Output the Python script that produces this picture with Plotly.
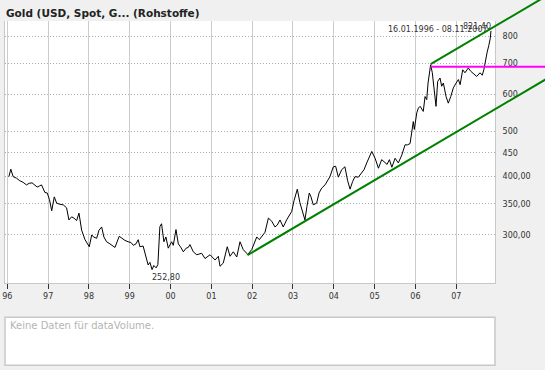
import math
import pandas as pd
import plotly.graph_objects as go

# ---------------- data ----------------
dates = [
    "1996-01-16", "1996-02-02", "1996-02-23", "1996-03-24", "1996-04-22", "1996-05-22",
    "1996-06-21", "1996-07-15", "1996-08-10", "1996-09-04", "1996-09-25", "1996-10-15",
    "1996-11-03", "1996-12-03", "1996-12-24", "1997-01-13", "1997-02-02", "1997-02-25",
    "1997-03-18", "1997-04-16", "1997-05-16", "1997-06-15", "1997-07-06", "1997-07-30",
    "1997-08-20", "1997-09-13", "1997-10-04", "1997-10-28", "1997-11-27", "1998-01-04",
    "1998-01-26", "1998-02-11", "1998-03-11", "1998-04-01", "1998-04-25", "1998-05-15",
    "1998-06-08", "1998-07-08", "1998-08-22", "1998-09-29", "1998-10-23", "1998-11-19",
    "1998-12-18", "1999-01-12", "1999-02-02", "1999-02-26", "1999-03-18", "1999-04-02",
    "1999-05-01", "1999-05-16", "1999-06-01", "1999-06-15", "1999-07-01", "1999-07-20",
    "1999-08-05", "1999-08-25", "1999-09-10", "1999-09-28", "1999-10-13", "1999-11-03",
    "1999-11-21", "1999-12-12", "2000-01-11", "2000-01-26", "2000-02-19", "2000-03-11",
    "2000-03-30", "2000-04-25", "2000-05-20", "2000-06-08", "2000-06-23", "2000-07-23",
    "2000-08-23", "2000-10-06", "2000-11-05", "2000-12-20", "2001-02-03", "2001-03-04",
    "2001-03-19", "2001-04-17", "2001-05-23", "2001-06-17", "2001-07-16", "2001-08-16",
    "2001-09-14", "2001-10-13", "2001-11-13", "2001-11-20", "2001-12-28", "2002-02-11",
    "2002-03-06", "2002-04-26", "2002-05-26", "2002-06-25", "2002-07-24", "2002-08-14",
    "2002-09-07", "2002-10-06", "2002-11-05", "2002-12-21", "2003-01-10", "2003-02-09",
    "2003-03-04", "2003-03-26", "2003-04-18", "2003-05-06", "2003-05-27", "2003-06-11",
    "2003-07-02", "2003-08-01", "2003-08-22", "2003-09-15", "2003-10-15", "2003-11-28",
    "2003-12-28", "2004-01-18", "2004-02-11", "2004-03-12", "2004-04-10", "2004-05-03",
    "2004-05-26", "2004-06-17", "2004-07-09", "2004-08-08", "2004-09-08", "2004-09-28",
    "2004-10-22", "2004-11-10", "2004-12-06", "2005-01-05", "2005-02-04", "2005-03-05",
    "2005-04-04", "2005-04-22", "2005-05-13", "2005-06-04", "2005-07-03", "2005-08-01",
    "2005-09-01", "2005-09-30", "2005-10-22", "2005-11-14", "2005-12-13", "2005-12-22",
    "2006-01-13", "2006-01-27", "2006-02-12", "2006-03-12", "2006-03-28", "2006-04-12",
    "2006-04-24", "2006-05-05", "2006-05-17", "2006-06-01", "2006-06-19", "2006-07-04",
    "2006-07-19", "2006-08-09", "2006-08-24", "2006-09-08", "2006-10-02", "2006-10-22",
    "2006-11-13", "2006-12-06", "2006-12-31", "2007-01-20", "2007-02-05", "2007-02-28",
    "2007-03-20", "2007-04-19", "2007-05-11", "2007-06-03", "2007-07-03", "2007-08-02",
    "2007-08-22", "2007-09-05", "2007-09-20", "2007-10-05", "2007-10-20", "2007-11-01",
    "2007-11-08",
]
prices = [
    400, 415, 400, 397, 392, 389,
    384, 387, 388, 384, 380, 382,
    384, 370, 369, 357, 338, 362,
    351, 349, 348, 343, 323, 328,
    326, 322, 334, 307, 293, 283,
    300, 297, 295, 307, 312, 297,
    290, 287, 282, 298, 295, 292,
    290, 289, 285, 287, 293, 283,
    284, 274, 265, 258.6, 262, 252.8,
    258, 255, 259, 312.5, 317, 290,
    297, 281, 290, 285, 308, 287,
    283, 276, 281, 282, 286, 276,
    272, 274, 267, 272, 265, 270,
    257, 261, 283, 270, 276, 269,
    290, 279, 274, 272, 279, 297,
    293, 304, 326, 321, 312, 315,
    323, 312, 323, 337, 355, 376,
    352, 337, 323, 345, 369, 362,
    348, 351, 369, 378, 384, 400,
    420, 421, 399, 414, 420, 393,
    376, 390, 400, 399, 407, 414,
    428, 438, 453, 438, 417, 435,
    428, 425, 435, 419, 438, 428,
    445, 468, 468, 471, 525, 505,
    548, 561, 566, 552, 594, 585,
    635, 673, 695, 668, 605, 566,
    640, 651, 625, 635, 594, 575,
    594, 620, 635, 646, 630, 678,
    668, 684, 673, 665, 656, 668,
    660, 678, 713, 740, 765, 790,
    821.4,
]

year_tick_dates = [f"{y}-01-01" for y in range(1996, 2008)]
year_tick_labels = ["96", "97", "98", "99", "00", "01", "02", "03", "04", "05", "06", "07"]

price_tick_vals = [300, 350, 400, 450, 500, 600, 700, 800]
price_tick_labels = ["300,00", "350,00", "400,00", "450", "500", "600", "700", "800"]

x_range = ["1995-12-12", "2007-12-14"]
y_range = [236.6, 862.6]

# trend channel (two anchor points of lower line, start of upper line)
lower_trend_dates = ["2001-11-20", "2006-05-12"]
lower_trend_vals = [271.6, 462.0]
upper_trend_date = "2006-05-17"
upper_trend_val = 697.0
resistance_date = "2006-05-17"
resistance_val = 688.0

period_text = "16.01.1996 - 08.11.2007"
title_text = "Gold (USD, Spot, G... (Rohstoffe)"
volume_text = "Keine Daten für dataVolume."

# ---------------- helpers: data -> paper coordinates ----------------
T0 = pd.Timestamp(x_range[0]).value
T1 = pd.Timestamp(x_range[1]).value
YLO = math.log10(y_range[0])
YHI = math.log10(y_range[1])


def t(d):
    return pd.Timestamp(d).value


def px(d):
    return (t(d) - T0) / (T1 - T0)


def py(v):
    return (math.log10(v) - YLO) / (YHI - YLO)


slope = (math.log10(lower_trend_vals[1]) - math.log10(lower_trend_vals[0])) / (
    t(lower_trend_dates[1]) - t(lower_trend_dates[0]))
X_END = 1.13
T_END = T0 + X_END * (T1 - T0)


def trend_end_y(d, v):
    lv = math.log10(v) + slope * (T_END - t(d))
    return (lv - YLO) / (YHI - YLO)


FONT = "DejaVu Sans"
TXT = "#333333"

fig = go.Figure()
fig.add_trace(go.Scatter(
    x=dates, y=prices, mode="lines",
    line=dict(color="#000000", width=1),
    hoverinfo="skip", showlegend=False,
))

shapes = [
    # lower trend line
    dict(type="line", xref="paper", yref="paper",
         x0=px(lower_trend_dates[0]), y0=py(lower_trend_vals[0]),
         x1=X_END, y1=trend_end_y(lower_trend_dates[0], lower_trend_vals[0]),
         line=dict(color="#008000", width=2)),
    # upper trend line
    dict(type="line", xref="paper", yref="paper",
         x0=px(upper_trend_date), y0=py(upper_trend_val),
         x1=X_END, y1=trend_end_y(upper_trend_date, upper_trend_val),
         line=dict(color="#008000", width=2)),
    # horizontal resistance
    dict(type="line", xref="paper", yref="paper",
         x0=px(resistance_date), y0=py(resistance_val),
         x1=X_END, y1=py(resistance_val),
         line=dict(color="#ff00ff", width=2)),
    # volume panel
    dict(type="rect", xref="paper", yref="paper",
         x0=0, x1=1, y0=-0.314, y1=-0.131,
         fillcolor="white", line=dict(color="#c8c8c8", width=1.5)),
]

i_min = prices.index(min(prices))
i_max = prices.index(max(prices))


def fmt(v):
    return f"{v:.2f}".replace(".", ",")


annotations = [
    dict(xref="paper", yref="paper", x=0, y=1.032, xanchor="left", yanchor="middle",
         xshift=-1, text=f"<b>{title_text}</b>", showarrow=False,
         font=dict(family=FONT, size=10.5, color="#222222")),
    dict(xref="paper", yref="paper", x=0.9905, y=0.966, xanchor="right", yanchor="middle",
         text=period_text, showarrow=False,
         font=dict(family=FONT, size=8, color=TXT)),
    dict(x=dates[i_max], y=math.log10(prices[i_max]), xanchor="right", yanchor="bottom",
         text=fmt(prices[i_max]), showarrow=False, xshift=2, yshift=-2,
         font=dict(family=FONT, size=8, color=TXT)),
    dict(x=dates[i_min], y=math.log10(prices[i_min]), xanchor="left", yanchor="top",
         text=fmt(prices[i_min]), showarrow=False, xshift=-2, yshift=-1,
         font=dict(family=FONT, size=8, color=TXT)),
    dict(xref="paper", yref="paper", x=0.006, y=-0.164, xanchor="left", yanchor="middle",
         text=volume_text, showarrow=False,
         font=dict(family=FONT, size=10, color="#b4b4b4")),
]

fig.update_layout(
    template="none",
    width=545, height=370,
    margin=dict(l=5, r=50, t=21, b=87, pad=0, autoexpand=False),
    paper_bgcolor="#f0f0f0", plot_bgcolor="#ffffff",
    showlegend=False,
    shapes=shapes, annotations=annotations,
    xaxis=dict(
        type="date", range=x_range, automargin=False,
        tickmode="array", tickvals=year_tick_dates, ticktext=year_tick_labels,
        showgrid=True, gridcolor="#cccccc", gridwidth=1,
        ticks="outside", ticklen=5, tickcolor="#333333", tickwidth=1,
        showline=True, linecolor="#c8c8c8", linewidth=1, mirror=False,
        zeroline=False, tickfont=dict(family=FONT, size=8, color=TXT),
    ),
    yaxis=dict(
        type="log", range=[YLO, YHI], side="right", automargin=False,
        tickmode="array", tickvals=price_tick_vals, ticktext=price_tick_labels,
        showgrid=True, gridcolor="#aaaaaa", gridwidth=1, griddash="1px,2px",
        ticks="", ticklabelstandoff=5,
        showline=True, linecolor="#c8c8c8", linewidth=1, mirror=True,
        zeroline=False, tickfont=dict(family=FONT, size=8, color=TXT),
    ),
)

fig.write_html(
    "out.html",
    config={"displayModeBar": False},
    post_script="document.body.style.margin='0px';document.body.style.background='#f0f0f0';",
)
